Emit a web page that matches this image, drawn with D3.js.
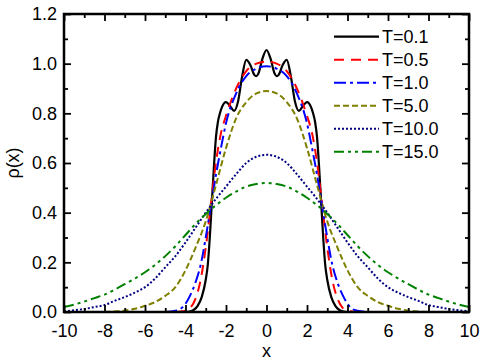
<!DOCTYPE html>
<html>
<head>
<meta charset="utf-8">
<script src="https://cdn.jsdelivr.net/npm/d3@7"></script>
<style>
  body { margin: 0; background: #fff; }
  svg { display: block; font-family: "Liberation Sans", Arial, sans-serif; }
  .tick text { font-size: 18px; fill: #000; }
</style>
</head>
<body>
<div id="chart"></div>
<script>
const W = 485, H = 362;

// axis ticks
const xTicks = [-10, -8, -6, -4, -2, 0, 2, 4, 6, 8, 10];
const xTickLabels = ["-10", "-8", "-6", "-4", "-2", "0", "2", "4", "6", "8", "10"];
const xMinor = [-9, -7, -5, -3, -1, 1, 3, 5, 7, 9];
const yTicks = [0, 0.2, 0.4, 0.6, 0.8, 1.0, 1.2];
const yTickLabels = ["0.0", "0.2", "0.4", "0.6", "0.8", "1.0", "1.2"];
const yMinor = [0.1, 0.3, 0.5, 0.7, 0.9, 1.1];

// T = 0.1
const x01 = [-4.0, -3.8, -3.6, -3.4, -3.2, -3.0, -2.9, -2.8, -2.7, -2.6, -2.5, -2.4, -2.3, -2.2, -2.0, -1.8, -1.6, -1.4, -1.2, -1.0, -0.8, -0.6, -0.5, -0.4, -0.2, 0,
             0.2, 0.4, 0.5, 0.6, 0.8, 1.0, 1.2, 1.4, 1.6, 1.8, 2.0, 2.2, 2.3, 2.4, 2.5, 2.6, 2.7, 2.8, 2.9, 3.0, 3.2, 3.4, 3.6, 3.8, 4.0];
const y01 = [0, 0.002, 0.008, 0.025, 0.06, 0.13, 0.19, 0.3, 0.44, 0.58, 0.7, 0.765, 0.8, 0.825, 0.845, 0.83, 0.81, 0.85, 0.95, 1.015, 0.995, 0.955, 0.95, 0.96, 1.02, 1.055,
             1.02, 0.96, 0.95, 0.955, 0.995, 1.015, 0.95, 0.85, 0.81, 0.83, 0.845, 0.825, 0.8, 0.765, 0.7, 0.58, 0.44, 0.3, 0.19, 0.13, 0.06, 0.025, 0.008, 0.002, 0];

// T = 0.5
const x05 = [-4.5, -4.25, -4.0, -3.75, -3.5, -3.25, -3.0, -2.75, -2.5, -2.25, -2.0, -1.5, -1.0, -0.5, 0,
             0.5, 1.0, 1.5, 2.0, 2.25, 2.5, 2.75, 3.0, 3.25, 3.5, 3.75, 4.0, 4.25, 4.5];
const y05 = [0, 0.002, 0.006, 0.018, 0.055, 0.13, 0.26, 0.43, 0.6, 0.72, 0.79, 0.9, 0.97, 1.0, 1.008,
             1.0, 0.97, 0.9, 0.79, 0.72, 0.6, 0.43, 0.26, 0.13, 0.055, 0.018, 0.006, 0.002, 0];

// T = 1.0
const x10 = [-5.0, -4.5, -4.25, -4.0, -3.75, -3.5, -3.25, -3.0, -2.75, -2.5, -2.25, -2.0, -1.5, -1.0, -0.5, 0,
             0.5, 1.0, 1.5, 2.0, 2.25, 2.5, 2.75, 3.0, 3.25, 3.5, 3.75, 4.0, 4.25, 4.5, 5.0];
const y10 = [0, 0.005, 0.012, 0.033, 0.07, 0.12, 0.19, 0.3, 0.425, 0.55, 0.66, 0.76, 0.88, 0.95, 0.98, 0.99,
             0.98, 0.95, 0.88, 0.76, 0.66, 0.55, 0.425, 0.3, 0.19, 0.12, 0.07, 0.033, 0.012, 0.005, 0];

// T = 5.0
const x50 = [-8.0, -7.5, -7.0, -6.5, -6.0, -5.5, -5.0, -4.5, -4.0, -3.5, -3.0, -2.5, -2.0, -1.5, -1.0, -0.5, 0,
             0.5, 1.0, 1.5, 2.0, 2.5, 3.0, 3.5, 4.0, 4.5, 5.0, 5.5, 6.0, 6.5, 7.0, 7.5, 8.0];
const y50 = [0, 0.002, 0.006, 0.013, 0.025, 0.04, 0.065, 0.1, 0.168, 0.26, 0.365, 0.51, 0.66, 0.78, 0.845, 0.88, 0.89,
             0.88, 0.845, 0.78, 0.66, 0.51, 0.365, 0.26, 0.168, 0.1, 0.065, 0.04, 0.025, 0.013, 0.006, 0.002, 0];

// T = 10.0
const x100 = [-10, -9.5, -9, -8.5, -8, -7.5, -7, -6.5, -6, -5.5, -5, -4.5, -4, -3.5, -3, -2.5, -2, -1.5, -1, -0.5, 0,
              0.5, 1, 1.5, 2, 2.5, 3, 3.5, 4, 4.5, 5, 5.5, 6, 6.5, 7, 7.5, 8, 8.5, 9, 9.5, 10];
const y100 = [0.003, 0.007, 0.012, 0.02, 0.028, 0.045, 0.06, 0.078, 0.1, 0.135, 0.18, 0.225, 0.28, 0.34, 0.4, 0.455, 0.505, 0.555, 0.6, 0.625, 0.633,
              0.625, 0.6, 0.555, 0.505, 0.455, 0.4, 0.34, 0.28, 0.225, 0.18, 0.135, 0.1, 0.078, 0.06, 0.045, 0.028, 0.02, 0.012, 0.007, 0.003];

// T = 15.0
const x150 = [-10, -9.5, -9, -8.5, -8, -7.5, -7, -6.5, -6, -5.5, -5, -4.5, -4, -3.5, -3, -2.5, -2, -1.5, -1, -0.5, 0,
              0.5, 1, 1.5, 2, 2.5, 3, 3.5, 4, 4.5, 5, 5.5, 6, 6.5, 7, 7.5, 8, 8.5, 9, 9.5, 10];
const y150 = [0.02, 0.03, 0.042, 0.056, 0.07, 0.09, 0.112, 0.135, 0.16, 0.19, 0.225, 0.265, 0.31, 0.355, 0.395, 0.43, 0.46, 0.485, 0.505, 0.515, 0.52,
              0.515, 0.505, 0.485, 0.46, 0.43, 0.395, 0.355, 0.31, 0.265, 0.225, 0.19, 0.16, 0.135, 0.112, 0.09, 0.07, 0.056, 0.042, 0.03, 0.02];

const seriesNames = ["T=0.1", "T=0.5", "T=1.0", "T=5.0", "T=10.0", "T=15.0"];
const seriesX = [x01, x05, x10, x50, x100, x150];
const seriesY = [y01, y05, y10, y50, y100, y150];

// styles
const colors = ["#000000", "#ff0000", "#0000ff", "#808000", "#000080", "#008000"];
const dashes = [null, "10,7", "12,4,3,4", "6,3", "2,2", "10,4,3,4,3,4"];
const widths = [2.2, 2, 2, 2, 2, 2];

const margin = { left: 64, right: 16, top: 14, bottom: 50 };
const pw = W - margin.left - margin.right;
const ph = H - margin.top - margin.bottom;

const svg = d3.select("#chart").append("svg")
    .attr("width", W)
    .attr("height", H);

const g = svg.append("g").attr("transform", `translate(${margin.left},${margin.top})`);

const x = d3.scaleLinear().domain([-10, 10]).range([0, pw]);
const y = d3.scaleLinear().domain([0, 1.2]).range([ph, 0]);

g.append("clipPath").attr("id", "clip")
  .append("rect").attr("width", pw).attr("height", ph);

const line = d3.line()
    .x(d => x(d[0]))
    .y(d => y(d[1]))
    .curve(d3.curveMonotoneX);

const curves = g.append("g").attr("clip-path", "url(#clip)");
seriesX.forEach((xs, i) => {
    const pts = xs.map((v, j) => [v, seriesY[i][j]]);
    curves.append("path")
        .attr("d", line(pts))
        .attr("fill", "none")
        .attr("stroke", colors[i])
        .attr("stroke-width", widths[i])
        .attr("stroke-dasharray", dashes[i]);
});

// ticks: majors with labels, minors plain, all pointing inward
function styleAxis(sel) {
    sel.select(".domain").remove();
    sel.selectAll(".tick line").attr("stroke", "#000").attr("stroke-width", 1.8);
}

g.append("g").attr("transform", `translate(0,${ph})`)
  .call(d3.axisBottom(x).tickValues(xTicks).tickSizeInner(-7).tickSizeOuter(0).tickPadding(12)
        .tickFormat((d, i) => xTickLabels[i]))
  .call(styleAxis);
g.append("g").attr("transform", `translate(0,${ph})`)
  .call(d3.axisBottom(x).tickValues(xMinor).tickSize(-4).tickFormat(""))
  .call(styleAxis);
g.append("g")
  .call(d3.axisTop(x).tickValues(xTicks).tickSize(-7).tickFormat(""))
  .call(styleAxis);
g.append("g")
  .call(d3.axisTop(x).tickValues(xMinor).tickSize(-4).tickFormat(""))
  .call(styleAxis);

g.append("g")
  .call(d3.axisLeft(y).tickValues(yTicks).tickSizeInner(-7).tickSizeOuter(0).tickPadding(7)
        .tickFormat((d, i) => yTickLabels[i]))
  .call(styleAxis);
g.append("g")
  .call(d3.axisLeft(y).tickValues(yMinor).tickSize(-4).tickFormat(""))
  .call(styleAxis);
g.append("g").attr("transform", `translate(${pw},0)`)
  .call(d3.axisRight(y).tickValues(yTicks).tickSize(-7).tickFormat(""))
  .call(styleAxis);
g.append("g").attr("transform", `translate(${pw},0)`)
  .call(d3.axisRight(y).tickValues(yMinor).tickSize(-4).tickFormat(""))
  .call(styleAxis);

// frame
g.append("rect")
    .attr("width", pw).attr("height", ph)
    .attr("fill", "none").attr("stroke", "#000").attr("stroke-width", 2.5);

// axis titles
svg.append("text")
    .attr("x", margin.left + pw / 2).attr("y", 357)
    .attr("text-anchor", "middle")
    .attr("font-size", 18)
    .text("x");
svg.append("text")
    .attr("transform", `translate(19,${margin.top + ph / 2}) rotate(-90)`)
    .attr("text-anchor", "middle")
    .attr("font-size", 18)
    .text("ρ(x)");

// legend
const legend = svg.append("g");
seriesNames.forEach((name, i) => {
    const ly = 36.7 + i * 23;
    legend.append("line")
        .attr("x1", 334).attr("x2", 379)
        .attr("y1", ly).attr("y2", ly)
        .attr("stroke", colors[i])
        .attr("stroke-width", widths[i])
        .attr("stroke-dasharray", dashes[i]);
    legend.append("text")
        .attr("x", 382).attr("y", ly + 6.5)
        .attr("font-size", 18)
        .text(name);
});
</script>
</body>
</html>
